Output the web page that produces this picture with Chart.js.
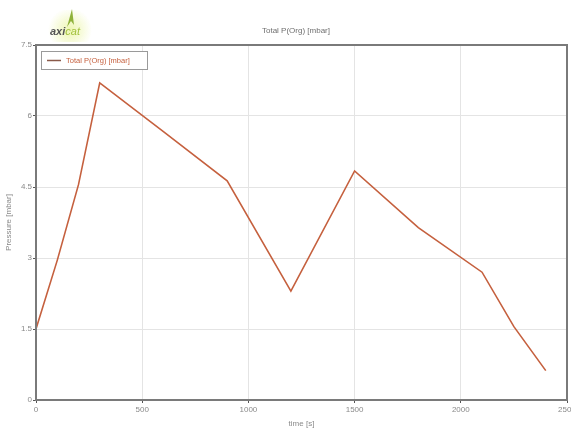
<!DOCTYPE html>
<html>
<head>
<meta charset="utf-8">
<script src="https://cdn.jsdelivr.net/npm/chart.js"></script>
<style>
  html, body { margin: 0; padding: 0; background: #fff; }
</style>
</head>
<body>
<canvas id="chart" width="571" height="433"></canvas>
<script>
// time [s] and total pressure [mbar]
const times = [0, 100, 200, 300, 600, 900, 1200, 1500, 1800, 2100, 2250, 2400];
const pressure = [1.5, 2.95, 4.55, 6.7, 5.67, 4.63, 2.3, 4.84, 3.64, 2.7, 1.55, 0.62];
const seriesName = 'Total P(Org) [mbar]';
const xTicks = [0, 500, 1000, 1500, 2000, 2500];
const yTicks = [0, 1.5, 3, 4.5, 6, 7.5];

const lineColor = '#c5603e';
const axisColor = '#7a7a7a';
const textColor = '#8a8a8a';
const fontFamily = 'Liberation Sans, Arial, sans-serif';

// logo, title, boxed frame and in-plot legend
const decorations = {
    id: 'decorations',
    afterDraw(chart) {
        const ctx = chart.ctx;
        const a = chart.chartArea;
        ctx.save();

        // frame around the plot area
        ctx.strokeStyle = axisColor;
        ctx.lineWidth = 2;
        ctx.strokeRect(a.left, a.top, a.right - a.left, a.bottom - a.top);

        // title
        ctx.fillStyle = '#6f6f6f';
        ctx.font = '8px ' + fontFamily;
        ctx.textAlign = 'center';
        ctx.textBaseline = 'middle';
        ctx.fillText(seriesName, 296, 31);

        // logo
        const g = ctx.createRadialGradient(70, 30, 1, 70, 30, 22);
        g.addColorStop(0, 'rgba(225,240,120,0.55)');
        g.addColorStop(1, 'rgba(225,240,120,0)');
        ctx.fillStyle = g;
        ctx.fillRect(45, 10, 52, 32);
        ctx.fillStyle = '#8fb23a';
        ctx.beginPath();
        ctx.moveTo(67, 27);
        ctx.lineTo(72, 9);
        ctx.lineTo(74, 25);
        ctx.lineTo(71, 21);
        ctx.closePath();
        ctx.fill();
        ctx.textAlign = 'left';
        ctx.font = 'italic bold 11px ' + fontFamily;
        ctx.fillStyle = '#555';
        ctx.fillText('axi', 50, 32);
        const w = ctx.measureText('axi').width;
        ctx.fillStyle = '#a3c23e';
        ctx.font = 'italic 11px ' + fontFamily;
        ctx.fillText('cat', 50 + w, 32);

        // legend box
        const lx = a.left + 5, ly = a.top + 6, lw = 106, lh = 18;
        ctx.fillStyle = '#fff';
        ctx.fillRect(lx, ly, lw, lh);
        ctx.strokeStyle = '#9a9a9a';
        ctx.lineWidth = 1;
        ctx.strokeRect(lx + 0.5, ly + 0.5, lw, lh);
        ctx.strokeStyle = '#8a5a4a';
        ctx.lineWidth = 1.5;
        ctx.beginPath();
        ctx.moveTo(lx + 6, ly + 9.5);
        ctx.lineTo(lx + 20, ly + 9.5);
        ctx.stroke();
        ctx.fillStyle = lineColor;
        ctx.font = '7.5px ' + fontFamily;
        ctx.fillText(seriesName, lx + 25, ly + 10);

        ctx.restore();
    }
};

new Chart(document.getElementById('chart'), {
    type: 'line',
    data: {
        datasets: [{
            label: seriesName,
            data: times.map((t, i) => ({ x: t, y: pressure[i] })),
            borderColor: lineColor,
            borderWidth: 1.6,
            pointRadius: 0,
            tension: 0,
            fill: false
        }]
    },
    options: {
        responsive: false,
        animation: false,
        devicePixelRatio: 1,
        layout: { padding: { top: 45, right: 4, left: 0, bottom: 0 } },
        plugins: {
            legend: { display: false },
            tooltip: { enabled: false }
        },
        scales: {
            x: {
                type: 'linear',
                min: 0,
                max: 2500,
                afterBuildTicks: s => { s.ticks = xTicks.map(v => ({ value: v })); },
                afterFit: s => { s.height = 33; s.paddingLeft = 0; s.paddingRight = 0; },
                grid: { color: '#e4e4e4', tickLength: 3, tickColor: '#555' },
                border: { color: axisColor, width: 2 },
                ticks: {
                    color: textColor, font: { size: 8, family: fontFamily }, padding: 2, maxRotation: 0,
                    callback: v => String(v)
                },
                title: { display: true, text: 'time [s]', color: textColor, font: { size: 8, family: fontFamily }, padding: { top: 4 } }
            },
            y: {
                min: 0,
                max: 7.5,
                afterBuildTicks: s => { s.ticks = yTicks.map(v => ({ value: v })); },
                afterFit: s => { s.width = 36; s.paddingTop = 0; s.paddingBottom = 0; },
                grid: { color: '#e4e4e4', tickLength: 3, tickColor: '#555' },
                border: { color: axisColor, width: 2 },
                ticks: { color: textColor, font: { size: 8, family: fontFamily }, padding: 1 },
                title: { display: true, text: 'Pressure [mbar]', color: textColor, font: { size: 8, family: fontFamily }, padding: { bottom: 4 } }
            }
        }
    },
    plugins: [decorations]
});
</script>
</body>
</html>
